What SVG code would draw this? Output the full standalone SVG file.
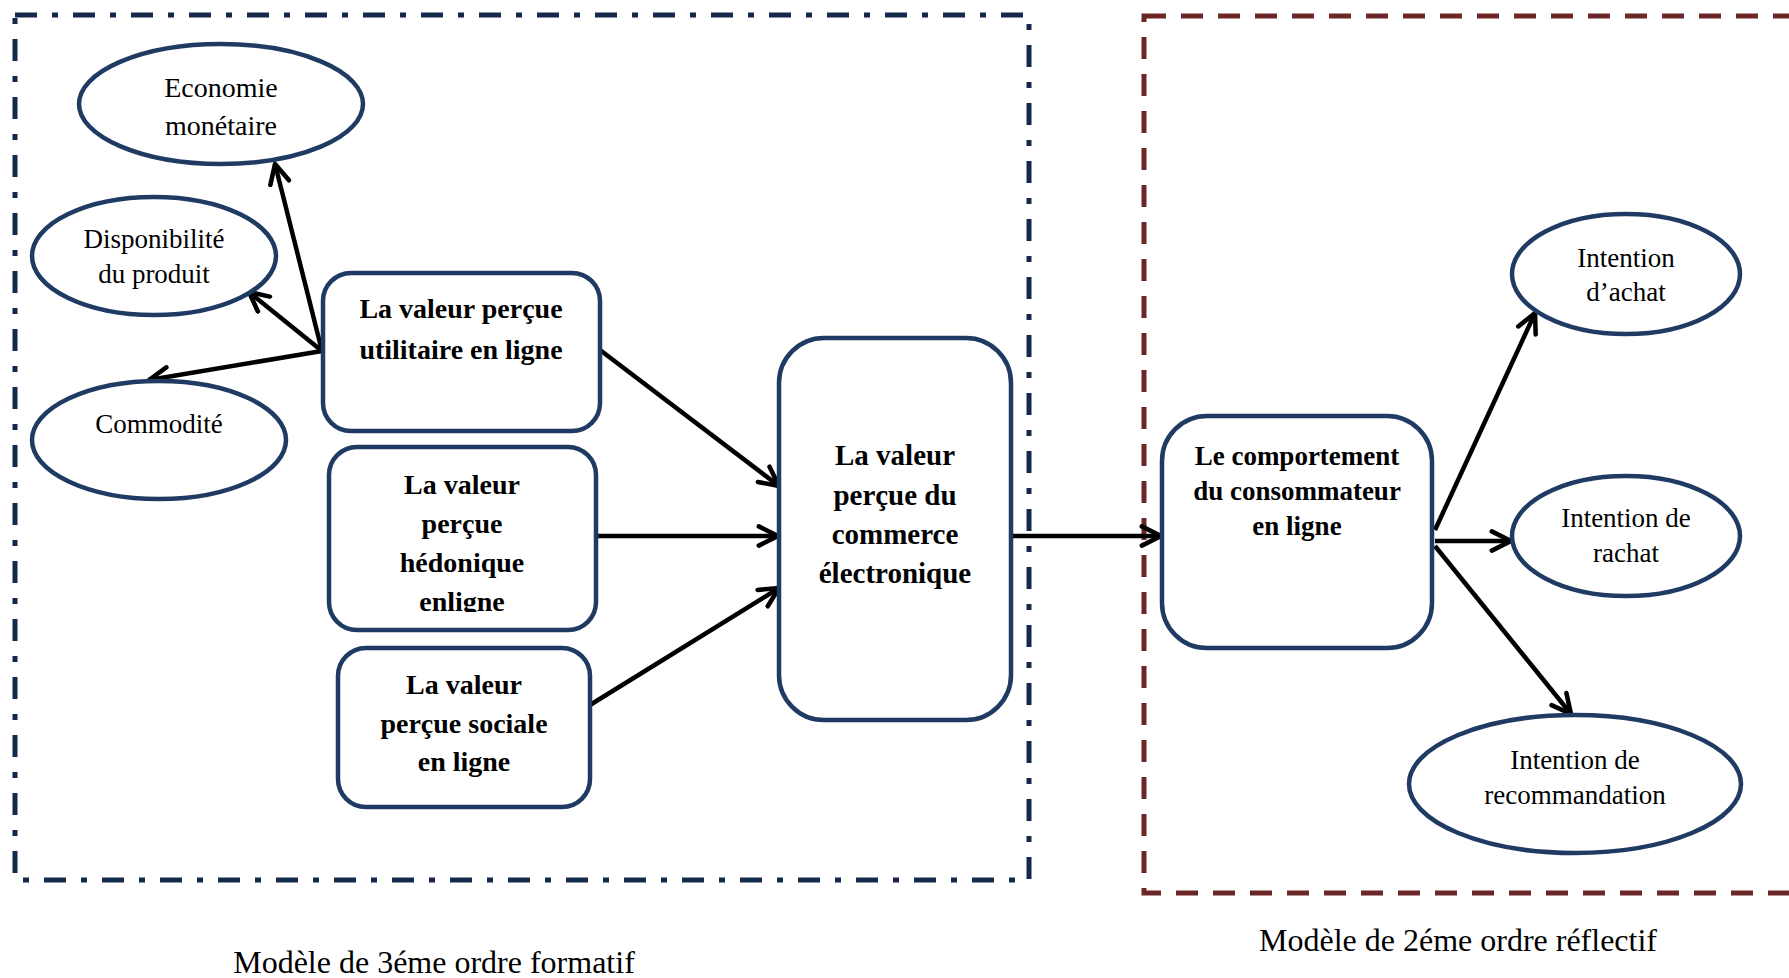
<svg xmlns="http://www.w3.org/2000/svg" width="1789" height="978" viewBox="0 0 1789 978">
  <style>
    .frame-f { fill: none; stroke: #14284b; stroke-width: 5; stroke-dasharray: 22 15 6 15; }
    .frame-r { fill: none; stroke: #6b2727; stroke-width: 5; stroke-dasharray: 22 15; }
    .node { fill: #ffffff; stroke: #1f3b63; stroke-width: 4.5; }
    .edge { fill: none; stroke: #000000; stroke-width: 4.5; marker-end: url(#arr); }
    .lbl { font-family: "Liberation Serif", "Times New Roman", serif; fill: #000000; text-anchor: middle; }
    .reg { font-size: 27px; }
    .bold { font-weight: bold; font-size: 28px; }
    .cap { font-size: 32px; }
  </style>
  <defs>
    <marker id="arr" viewBox="0 0 20 20" refX="18" refY="10" orient="auto" markerUnits="userSpaceOnUse" markerWidth="24" markerHeight="24">
      <path d="M2,2 L18,10 L2,18" fill="none" stroke="#000000" stroke-width="3.8" stroke-linecap="round" stroke-linejoin="round"/>
    </marker>
    <clipPath id="clipHedo">
      <rect x="329" y="447" width="267" height="165"/>
    </clipPath>
  </defs>

  <rect width="1789" height="978" fill="#ffffff"/>

  <!-- model frames -->
  <g id="frames">
    <rect class="frame-f" x="15" y="15" width="1014" height="865"/>
    <rect class="frame-r" x="1144" y="16" width="680" height="877"/>
  </g>

  <!-- connectors -->
  <g id="connectors">
    <line class="edge" x1="322" y1="351" x2="275" y2="164"/>
    <line class="edge" x1="322" y1="351" x2="249" y2="292"/>
    <line class="edge" x1="322" y1="351" x2="149" y2="380"/>
    <line class="edge" x1="600" y1="350" x2="779" y2="486"/>
    <line class="edge" x1="596" y1="536" x2="778" y2="536"/>
    <line class="edge" x1="590" y1="705" x2="779" y2="588"/>
    <line class="edge" x1="1011" y1="536" x2="1161" y2="536"/>
    <line class="edge" x1="1435" y1="530" x2="1535" y2="313"/>
    <line class="edge" x1="1435" y1="541" x2="1511" y2="541"/>
    <line class="edge" x1="1435" y1="546" x2="1571" y2="714"/>
  </g>

  <!-- formative dimensions -->
  <g id="economie">
    <ellipse class="node" cx="221" cy="104" rx="142" ry="60"/>
    <text class="lbl reg" x="221" y="97" style="font-size:28px">Economie</text>
    <text class="lbl reg" x="221" y="135" style="font-size:28px">monétaire</text>
  </g>
  <g id="disponibilite">
    <ellipse class="node" cx="154" cy="256" rx="122" ry="59"/>
    <text class="lbl reg" x="154" y="248">Disponibilité</text>
    <text class="lbl reg" x="154" y="283">du produit</text>
  </g>
  <g id="commodite">
    <ellipse class="node" cx="159" cy="440" rx="127" ry="59"/>
    <text class="lbl reg" x="159" y="433">Commodité</text>
  </g>

  <!-- first-order value components -->
  <g id="utilitaire">
    <rect class="node" x="323" y="273" width="277" height="158" rx="28"/>
    <text class="lbl bold" x="461" y="318">La valeur perçue</text>
    <text class="lbl bold" x="461" y="359">utilitaire en ligne</text>
  </g>
  <g id="hedonique">
    <rect class="node" x="329" y="447" width="267" height="183" rx="28"/>
    <g clip-path="url(#clipHedo)">
      <text class="lbl bold" x="462" y="494">La valeur</text>
      <text class="lbl bold" x="462" y="533">perçue</text>
      <text class="lbl bold" x="462" y="572">hédonique</text>
      <text class="lbl bold" x="462" y="611">enligne</text>
    </g>
  </g>
  <g id="sociale">
    <rect class="node" x="338" y="648" width="252" height="159" rx="28"/>
    <text class="lbl bold" x="464" y="694">La valeur</text>
    <text class="lbl bold" x="464" y="733">perçue sociale</text>
    <text class="lbl bold" x="464" y="771">en ligne</text>
  </g>

  <!-- global value -->
  <g id="valeur-globale">
    <rect class="node" x="779" y="338" width="232" height="382" rx="45"/>
    <text class="lbl bold" x="895" y="465" style="font-size:29px">La valeur</text>
    <text class="lbl bold" x="895" y="505" style="font-size:29px">perçue du</text>
    <text class="lbl bold" x="895" y="544" style="font-size:29px">commerce</text>
    <text class="lbl bold" x="895" y="583" style="font-size:29px">électronique</text>
  </g>

  <!-- reflective construct -->
  <g id="comportement">
    <rect class="node" x="1162" y="416" width="270" height="232" rx="45"/>
    <text class="lbl bold" x="1297" y="465" style="font-size:27px">Le comportement</text>
    <text class="lbl bold" x="1297" y="500" style="font-size:27px">du consommateur</text>
    <text class="lbl bold" x="1297" y="535" style="font-size:27px">en ligne</text>
  </g>
  <g id="achat">
    <ellipse class="node" cx="1626" cy="274" rx="114" ry="60"/>
    <text class="lbl reg" x="1626" y="267">Intention</text>
    <text class="lbl reg" x="1626" y="301">d’achat</text>
  </g>
  <g id="rachat">
    <ellipse class="node" cx="1626" cy="536" rx="114" ry="60"/>
    <text class="lbl reg" x="1626" y="527">Intention de</text>
    <text class="lbl reg" x="1626" y="562">rachat</text>
  </g>
  <g id="recommandation">
    <ellipse class="node" cx="1575" cy="784" rx="166" ry="69"/>
    <text class="lbl reg" x="1575" y="769">Intention de</text>
    <text class="lbl reg" x="1575" y="804">recommandation</text>
  </g>

  <!-- captions -->
  <g id="captions">
    <text class="lbl cap" x="434" y="973">Modèle de 3éme ordre formatif</text>
    <text class="lbl cap" x="1458" y="951">Modèle de 2éme ordre réflectif</text>
  </g>
</svg>
